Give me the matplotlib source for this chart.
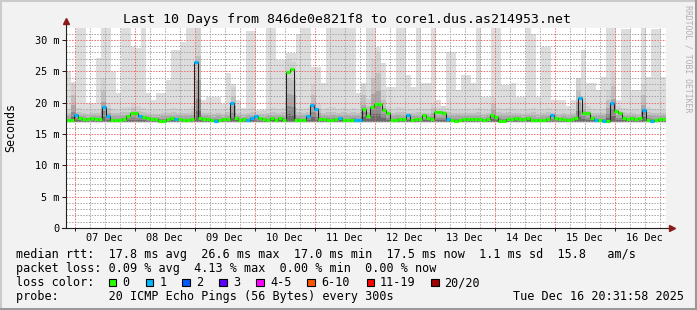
import numpy as np
import matplotlib
matplotlib.use("Agg")
import matplotlib.pyplot as plt
from matplotlib.patches import Rectangle
from matplotlib.lines import Line2D

# ---------------- data ----------------
title = "Last 10 Days from 846de0e821f8 to core1.dus.as214953.net"
day_labels = ["07 Dec", "08 Dec", "09 Dec", "10 Dec", "11 Dec",
              "12 Dec", "13 Dec", "14 Dec", "15 Dec", "16 Dec"]
span_hours = 240.0            # 10 days
first_midnight_h = 3.467      # graph starts Dec 6 20:31:58

# smoke (2-hour bins): upper edge of lightest smoke and of the darker core (ms)
smoke_max = [25.0, 23.3, 31.9, 31.9, 20.0, 20.0, 27.1, 31.9, 31.9, 24.9,
             21.5, 31.9, 31.9, 28.9, 28.7, 31.9, 21.6, 20.4, 21.5, 21.5,
             23.6, 28.4, 28.4, 29.7, 31.9, 31.9, 31.9, 20.4, 20.9, 20.9,
             20.9, 19.7, 24.7, 23.0, 20.4, 19.2, 31.5, 31.5, 18.8, 18.8,
             31.9, 31.9, 26.8, 26.8, 27.9, 27.9, 31.0, 31.9, 31.9, 25.7,
             25.7, 23.1, 31.9, 31.9, 31.9, 31.9, 31.9, 31.9, 21.5, 23.1,
             31.9, 31.9, 28.9, 26.3, 22.5, 22.5, 31.9, 31.9, 24.4, 22.5,
             31.9, 23.1, 23.1, 31.9, 20.4, 19.5, 28.0, 28.0, 22.0, 24.4,
             24.4, 23.1, 31.9, 20.9, 20.9, 31.9, 31.9, 22.8, 22.8, 23.1,
             20.9, 20.9, 31.9, 31.0, 20.9, 28.9, 28.9, 20.4, 20.4, 20.4,
             19.5, 20.4, 23.1, 28.4, 23.1, 23.1, 22.0, 24.1, 31.9, 31.9,
             20.4, 31.7, 31.7, 22.0, 22.0, 31.9, 24.1, 31.7, 31.7, 24.1]
smoke_mid = [19.0, 23.0, 19.2, 18.9, 18.8, 18.9, 19.0, 24.0, 20.0, 19.0,
             18.9, 19.2, 19.3, 20.0, 19.4, 19.2, 18.9, 18.8, 18.8, 18.9,
             19.0, 19.1, 19.0, 18.9, 19.0, 19.5, 31.9, 19.0, 18.9, 18.8,
             18.9, 18.8, 19.2, 22.5, 19.0, 18.8, 19.0, 19.2, 18.7, 18.8,
             19.0, 19.1, 19.0, 19.2, 27.0, 26.5, 19.2, 19.0, 19.2, 23.0,
             20.0, 19.0, 19.2, 19.3, 19.0, 19.1, 19.0, 19.2, 18.9, 23.0,
             20.5, 27.0, 28.0, 22.0, 19.5, 19.0, 19.3, 19.2, 19.0, 18.9,
             19.1, 19.0, 19.0, 20.0, 19.2, 19.5, 19.2, 19.0, 18.9, 19.0,
             19.0, 18.9, 19.1, 18.8, 18.9, 21.0, 19.2, 19.0, 19.1, 19.0,
             18.9, 18.8, 19.0, 19.1, 18.8, 19.0, 19.2, 18.9, 18.8, 18.9,
             18.8, 19.0, 24.0, 21.0, 19.5, 19.0, 18.9, 19.0, 22.0, 25.0,
             19.5, 19.2, 19.0, 18.9, 18.8, 23.0, 19.3, 19.0, 19.0, 18.9]
smoke_min = 16.7
smoke_core_min = 16.9

# median RTT (1.6-hour bins, ms) and lost pings per bin
median_ms = [17.3, 17.3, 18.1, 17.6, 17.4, 17.4, 17.5, 17.4, 17.4, 19.3,
             17.9, 17.3, 17.2, 17.3, 17.4, 17.9, 18.3, 18.3, 17.8, 17.7,
             17.6, 17.4, 17.4, 17.1, 17.1, 17.4, 17.5, 17.4, 17.4, 17.3,
             17.3, 17.4, 26.5, 17.5, 17.4, 17.4, 17.3, 17.1, 17.3, 17.4,
             17.4, 20.0, 17.5, 17.3, 17.4, 17.3, 17.6, 17.9, 17.5, 17.4,
             17.3, 17.5, 17.3, 17.5, 17.3, 24.9, 25.3, 17.3, 17.2, 17.3,
             17.9, 19.6, 19.0, 17.4, 17.4, 17.3, 17.3, 17.4, 17.5, 17.3,
             17.2, 17.3, 17.2, 17.2, 19.0, 17.8, 19.3, 19.8, 19.8, 18.8,
             18.4, 17.3, 17.3, 17.4, 17.4, 18.0, 17.3, 17.4, 17.4, 18.0,
             17.5, 17.4, 18.5, 18.5, 18.3, 17.4, 17.2, 17.1, 17.3, 17.4,
             17.4, 17.4, 17.4, 17.4, 17.3, 17.4, 18.0, 17.7, 17.0, 17.1,
             17.4, 17.4, 17.5, 17.4, 17.4, 17.5, 17.3, 17.3, 17.2, 17.3,
             17.4, 18.0, 17.6, 17.4, 17.4, 17.3, 17.4, 17.5, 20.7, 18.3,
             18.3, 17.5, 17.3, 17.2, 17.0, 17.1, 20.0, 18.7, 18.4, 17.5,
             17.4, 17.5, 17.4, 17.5, 18.8, 17.3, 17.1, 17.3, 17.4, 17.4]
loss_pings = [0, 0, 1, 0, 0, 0, 0, 0, 0, 1, 1, 0, 0, 0, 0, 0, 0, 0, 1, 0, 0, 0, 0, 0, 0,
              0, 0, 1, 0, 0, 0, 0, 1, 0, 0, 0, 0, 1, 0, 0, 0, 1, 0, 0, 0, 1, 1, 1, 0, 0,
              0, 0, 0, 0, 0, 0, 0, 0, 0, 0, 1, 1, 1, 0, 0, 0, 0, 0, 1, 0, 0, 0, 1, 1, 0,
              0, 0, 0, 0, 0, 0, 0, 0, 0, 0, 1, 0, 0, 0, 0, 0, 0, 0, 0, 0, 1, 0, 0, 0, 0,
              0, 0, 0, 0, 0, 0, 0, 0, 0, 0, 0, 0, 0, 0, 0, 0, 0, 0, 0, 0, 0, 1, 0, 0, 0,
              0, 0, 0, 1, 0, 0, 0, 1, 0, 1, 0, 1, 0, 0, 0, 0, 0, 0, 0, 1, 0, 1, 0, 0, 0]

y_ticks = [0, 5, 10, 15, 20, 25, 30]
y_tick_labels = ["0", "5 m", "10 m", "15 m", "20 m", "25 m", "30 m"]

loss_labels = ["0", "1", "2", "3", "4-5", "6-10", "11-19", "20/20"]
loss_colors = ["#26ff00", "#00b8ff", "#0059ff", "#5e00ff", "#ff00ff",
               "#ff5500", "#ff0000", "#a00000"]

line_rtt = "median rtt:  17.8 ms avg  26.6 ms max  17.0 ms min  17.5 ms now  1.1 ms sd  15.8   am/s"
line_loss = "packet loss: 0.09 % avg  4.13 % max  0.00 % min  0.00 % now"
line_probe = "probe:       20 ICMP Echo Pings (56 Bytes) every 300s"
stamp = "Tue Dec 16 20:31:58 2025"

# ---------------- layout ----------------
W, H = 697, 310
plt.rcParams["font.family"] = ["DejaVu Sans Mono"]
fig = plt.figure(figsize=(W / 100, H / 100), dpi=100, facecolor="#f2f2f2")


def fx(px):
    return px / W


def fy(py):
    return 1 - py / H


# 3D border
fig.add_artist(Line2D([0, 1], [fy(0.5), fy(0.5)], color="#cbcbcb", lw=1.5))
fig.add_artist(Line2D([fx(0.5), fx(0.5)], [0, 1], color="#cbcbcb", lw=1.5))
fig.add_artist(Line2D([0, 1], [fy(H - 0.7), fy(H - 0.7)], color="#999999", lw=1.5))
fig.add_artist(Line2D([fx(W - 0.7), fx(W - 0.7)], [0, 1], color="#999999", lw=1.5))

ax = fig.add_axes([fx(66), fy(228), 600 / W, 200 / H])
ax.set_facecolor("white")
ax.set_xlim(0, span_hours)
ax.set_ylim(0, 31.9)

# smoke
n_s = len(smoke_max)
edges_s = np.linspace(0, span_hours, n_s + 1)
ax.stairs(smoke_max, edges_s, baseline=np.full(n_s, smoke_min), fill=True,
          color="#dddddd", lw=0, zorder=1)
mid = np.array(smoke_mid)
for frac, shade in zip([1.0, 0.7, 0.45, 0.25, 0.12],
                       ["#d2d2d2", "#c0c0c0", "#a8a8a8", "#8c8c8c", "#6c6c6c"]):
    ax.stairs(smoke_core_min + (mid - smoke_core_min) * frac, edges_s,
              baseline=np.full(n_s, smoke_core_min), fill=True,
              color=shade, lw=0, zorder=1.1)

# grid (1px dotted)
dots = (0, (1.4, 1.4))
hours6 = np.arange(first_midnight_h, span_hours, 6.0)
for i, h in enumerate(hours6):
    major = (i % 4 == 0)
    ax.axvline(h, color="#ee6a6a" if major else "#a4a4a4", lw=0.72,
               ls=dots, zorder=2)
for v in range(1, 32):
    major = (v % 5 == 0)
    ax.axhline(v, color="#ee6a6a" if major else "#a4a4a4", lw=0.72,
               ls=dots, zorder=2 if major else 1.9)

# median
n_m = len(median_ms)
edges_m = np.linspace(0, span_hours, n_m + 1)
ax.stairs(median_ms, edges_m, baseline=None, color="#202020", lw=0.75, zorder=3)
ax.hlines(median_ms, edges_m[:-1], edges_m[1:],
          colors=[loss_colors[l] for l in loss_pings], lw=2.3, zorder=4)

# axes styling
for s in ["top", "right", "left", "bottom"]:
    ax.spines[s].set_visible(False)
ax.add_line(Line2D([0, 0], [0, 1.03], transform=ax.transAxes, color="#202020",
                   lw=0.8, clip_on=False, zorder=5))
ax.add_line(Line2D([-0.006, 1.008], [0, 0], transform=ax.transAxes, color="#202020",
                   lw=0.8, clip_on=False, zorder=5))
ax.plot([0], [1.035], marker="^", ms=4.5, color="#8b1a1a", mec="#8b1a1a",
        transform=ax.transAxes, clip_on=False, zorder=6)
ax.plot([1.0095], [0], marker=">", ms=4.5, color="#8b1a1a", mec="#8b1a1a",
        transform=ax.transAxes, clip_on=False, zorder=6)

ax.set_yticks(y_ticks, labels=y_tick_labels)
ax.tick_params(axis="y", length=2.9, width=0.72, pad=1.8, labelsize=7.4,
               direction="out", color="#202020")
noon = first_midnight_h + 12 + 24 * np.arange(len(day_labels))
ax.set_xticks(noon, labels=day_labels)
ax.tick_params(axis="x", length=0, pad=3.4, labelsize=7.4)
ax.set_xticks(hours6[::4], minor=True)
ax.tick_params(axis="x", which="minor", length=2.2, width=0.72, direction="out",
               color="#202020")

# texts
fig.text(fx(347.3), fy(22.7), title, ha="center", va="baseline", fontsize=9.57)
fig.text(fx(11), fy(128), "Seconds", rotation=90, ha="center", va="center",
         fontsize=8.4)
fig.text(fx(688), fy(59), "RRDTOOL / TOBI OETIKER", rotation=270, ha="center",
         va="center", fontsize=5.9, color="#b0b0b0")

fs = 8.49
fig.text(fx(15.5), fy(258.3), line_rtt, ha="left", va="baseline", fontsize=fs)
fig.text(fx(15.5), fy(272.3), line_loss, ha="left", va="baseline", fontsize=fs)
fig.text(fx(15.5), fy(286.3), "loss color:", ha="left", va="baseline", fontsize=fs)
box_x = [108.5, 145.7, 182.3, 219.0, 256.3, 307.3, 366.7, 431.0]
text_x = [122.6, 159.3, 196.0, 233.6, 270.3, 321.0, 379.6, 444.3]
for bx, tx, lab, col in zip(box_x, text_x, loss_labels, loss_colors):
    fig.add_artist(Rectangle((fx(bx), fy(286)), 7.5 / W, 7.5 / H, facecolor=col,
                             edgecolor="black", lw=0.8))
    fig.text(fx(tx), fy(286.3), lab, ha="left", va="baseline", fontsize=fs)
fig.text(fx(15.5), fy(300.3), line_probe, ha="left", va="baseline", fontsize=fs)
fig.text(fx(512.6), fy(300.3), stamp, ha="left", va="baseline", fontsize=fs)

fig.savefig("out.png", dpi=100, facecolor=fig.get_facecolor())
